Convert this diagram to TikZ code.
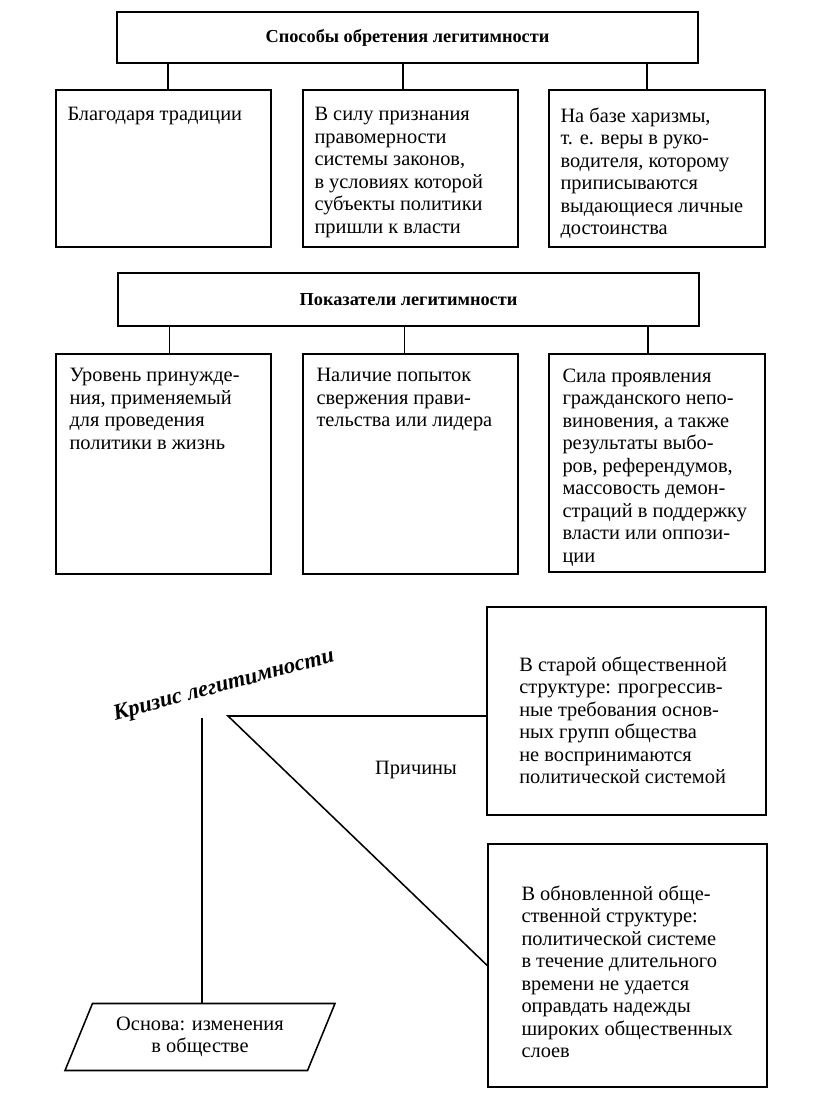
\documentclass[tikz,border=0pt]{standalone}
\usepackage{fontspec}
\setmainfont{Liberation Serif}
\usetikzlibrary{positioning,fit,shapes.geometric}

\begin{document}
\begin{tikzpicture}[x=0.025cm, y=-0.025cm,
    ramka/.style={draw, line width=1.1pt, inner sep=0pt},
    zagolovok/.style={inner sep=0pt, font=\fontsize{13}{16}\selectfont\bfseries},
    tekst/.style={align=left, inner sep=0pt, font=\fontsize{14.5}{16}\selectfont},
    kriz/.style={inner sep=0pt, font=\fontsize{16}{18}\selectfont\bfseries\itshape},
    osnova/.style={draw, line width=1.1pt, trapezium, trapezium left angle=62, trapezium right angle=118,
        trapezium stretches=true, minimum width=6.75cm, minimum height=1.675cm, inner sep=0pt,
        align=center, font=\fontsize{14.5}{16}\selectfont},
    svyaz/.style={line width=1.1pt}
]
\useasboundingbox (0,0) rectangle (816,1102);

% Способы обретения легитимности
\node[ramka, fit={(117,12) (698,63)}] (sposoby) {};
\node[zagolovok] (sposobyt) at (sposoby.center) {Способы обретения легитимности};

\node[ramka, fit={(56,90) (271,247)}] (s1) {};
\node[ramka, fit={(303,90) (518,247)}] (s2) {};
\node[ramka, fit={(549,90) (765,247)}] (s3) {};

\node[tekst, below right=0.45cm and 0.3cm of s1.north west] (s1t) {Благодаря традиции};
\node[tekst, below right=0.45cm and 0.3cm of s2.north west] (s2t) {В силу признания\\правомерности\\системы законов,\\в условиях которой\\субъекты политики\\пришли к власти};
\node[tekst, below right=0.45cm and 0.3cm of s3.north west] (s3t) {На базе харизмы,\\т. е. веры в руко-\\водителя, которому\\приписываются\\выдающиеся личные\\достоинства};

\draw[svyaz] ([xshift=0.11cm]s1.north) -- ([xshift=0.11cm]s1.north |- sposoby.south);
\draw[svyaz] ([xshift=-0.19cm]s2.north) -- ([xshift=-0.19cm]s2.north |- sposoby.south);
\draw[svyaz] ([xshift=-0.25cm]s3.north) -- ([xshift=-0.25cm]s3.north |- sposoby.south);

% Показатели легитимности
\node[ramka, fit={(118,273) (699,326)}] (pokaz) {};
\node[zagolovok] (pokazt) at (pokaz.center) {Показатели легитимности};

\node[ramka, fit={(56,354) (271,574)}] (p1) {};
\node[ramka, fit={(303,354) (518,574)}] (p2) {};
\node[ramka, fit={(549,354) (765,572)}] (p3) {};

\node[tekst, below right=0.375cm and 0.35cm of p1.north west] (p1t) {Уровень принужде-\\ния, применяемый\\для проведения\\политики в жизнь};
\node[tekst, below right=0.375cm and 0.35cm of p2.north west] (p2t) {Наличие попыток\\свержения прави-\\тельства или лидера};
\node[tekst, below right=0.375cm and 0.35cm of p3.north west] (p3t) {Сила проявления\\гражданского непо-\\виновения, а также\\результаты выбо-\\ров, референдумов,\\массовость демон-\\страций в поддержку\\власти или оппози-\\ции};

\draw[svyaz] ([xshift=0.15cm]p1.north) -- ([xshift=0.15cm]p1.north |- pokaz.south);
\draw[svyaz] ([xshift=-0.15cm]p2.north) -- ([xshift=-0.15cm]p2.north |- pokaz.south);
\draw[svyaz] ([xshift=-0.22cm]p3.north) -- ([xshift=-0.22cm]p3.north |- pokaz.south);

% Кризис легитимности
\node[kriz, rotate=15] (krizis) at (224,686) {Кризис легитимности};
\coordinate (ugol) at (228,716);
\coordinate (verh) at (202,718);

\node[ramka, fit={(487,607) (766,815)}] (prA) {};
\node[ramka, fit={(488,844) (767,1087)}] (prB) {};
\node[tekst, below right=1.25cm and 0.82cm of prA.north west] (prAt) {В старой общественной\\структуре: прогрессив-\\ные требования основ-\\ных групп общества\\не воспринимаются\\политической системой};
\node[tekst, below right=1.05cm and 0.85cm of prB.north west] (prBt) {В обновленной обще-\\ственной структуре:\\политической системе\\в течение длительного\\времени не удается\\оправдать надежды\\широких общественных\\слоев};
\node[tekst] (prichiny) at (416,770) {Причины};

\node[osnova] (osn) at (200,1037) {Основа: изменения\\в обществе};

\draw[svyaz] (prA.west |- ugol) -- (ugol) -- (prB.west);
\draw[svyaz] (verh) -- (verh |- osn.north);

\end{tikzpicture}
\end{document}
